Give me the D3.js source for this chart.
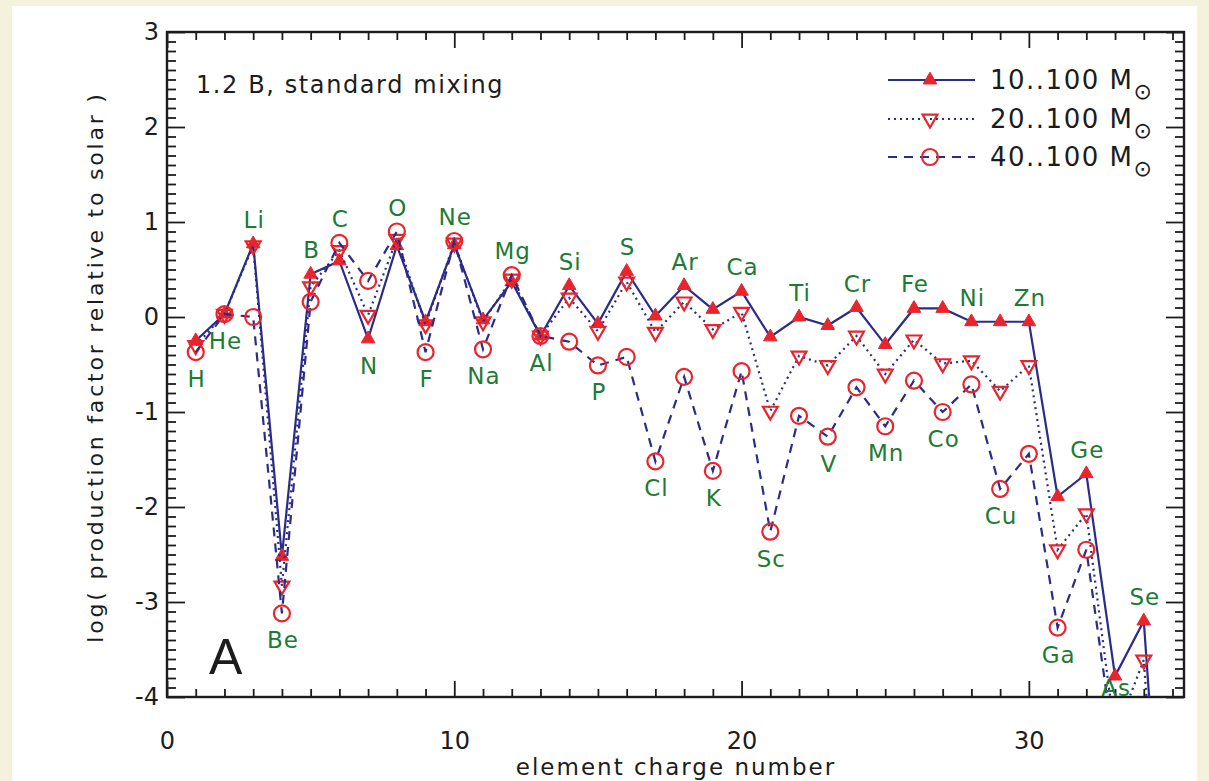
<!DOCTYPE html>
<html>
<head>
<meta charset="utf-8">
<script src="https://cdn.jsdelivr.net/npm/d3@7"></script>
<style>
  html, body { margin: 0; padding: 0; background: #f4f1dc; }
  svg { display: block; }
</style>
</head>
<body>
<div id="chart"></div>
<script>
// Production factors (log, relative to solar)
const chargeNumbers = [1, 2, 3, 4, 5, 6, 7, 8, 9, 10, 11, 12, 13, 14, 15, 16, 17, 18,
  19, 20, 21, 22, 23, 24, 25, 26, 27, 28, 29, 30, 31, 32, 33, 34, 35];
const elements = ['H', 'He', 'Li', 'Be', 'B', 'C', 'N', 'O', 'F', 'Ne', 'Na', 'Mg', 'Al',
  'Si', 'P', 'S', 'Cl', 'Ar', 'K', 'Ca', 'Sc', 'Ti', 'V', 'Cr', 'Mn', 'Fe', 'Co', 'Ni',
  'Cu', 'Zn', 'Ga', 'Ge', 'As', 'Se', 'Br'];
// a = label above the point, b = label below
const labelSide = ['b', 'b', 'a', 'b', 'a', 'a', 'b', 'a', 'b', 'a', 'b', 'a', 'b', 'a',
  'b', 'a', 'b', 'a', 'b', 'a', 'b', 'a', 'b', 'a', 'b', 'a', 'b', 'a', 'b', 'a', 'b',
  'a', 'b', 'a', ''];

const pf10to100 = [-0.25, 0.03, 0.77, -2.52, 0.45, 0.59, -0.23, 0.75, -0.05, 0.76, -0.03,
  0.37, -0.2, 0.33, -0.07, 0.48, 0.01, 0.33, 0.08, 0.27, -0.21, 0.0, -0.09, 0.1, -0.29,
  0.09, 0.09, -0.05, -0.05, -0.05, -1.89, -1.65, -3.78, -3.2, -7.5];
const pf20to100 = [-0.3, 0.03, 0.75, -2.83, 0.32, 0.7, 0.02, 0.82, -0.08, 0.78, -0.05,
  0.4, -0.2, 0.2, -0.15, 0.37, -0.16, 0.16, -0.13, 0.05, -0.99, -0.41, -0.51, -0.2, -0.6,
  -0.24, -0.49, -0.46, -0.78, -0.51, -2.45, -2.07, -4.4, -3.61, -7.8];
const pf40to100 = [-0.37, 0.03, 0.0, -3.12, 0.16, 0.78, 0.38, 0.9, -0.37, 0.8, -0.34,
  0.44, -0.2, -0.26, -0.51, -0.42, -1.52, -0.63, -1.62, -0.57, -2.26, -1.04, -1.26, -0.74,
  -1.15, -0.67, -1.0, -0.71, -1.81, -1.44, -3.27, -2.45, -4.6, -4.3, -8.0];

const seriesNames = ['10..100', '20..100', '40..100'];
const xTicks = [0, 10, 20, 30];
const yTicks = [-4, -3, -2, -1, 0, 1, 2, 3];

const width = 1209;
const height = 781;
const plot = { left: 167, right: 1184, top: 32, bottom: 697 };

const navy = '#2b2b88';
const red = '#e8252d';
const green = '#1e7b34';
const ink = '#1c1c1c';
const font = 'DejaVu Sans, sans-serif';

const svg = d3.select('#chart')
  .append('svg')
  .attr('width', width)
  .attr('height', height);

// page background + white panel
svg.append('rect')
  .attr('width', width)
  .attr('height', height)
  .attr('fill', '#f4f1dc');
svg.append('rect')
  .attr('x', 12)
  .attr('y', 6)
  .attr('width', 1185)
  .attr('height', height - 6)
  .attr('fill', '#ffffff');

const x = d3.scaleLinear().domain([0, 35.4]).range([plot.left, plot.right]);
const y = d3.scaleLinear().domain([-4, 3]).range([plot.bottom, plot.top]);

svg.append('defs')
  .append('clipPath')
  .attr('id', 'plot-clip')
  .append('rect')
  .attr('x', plot.left)
  .attr('y', plot.top)
  .attr('width', plot.right - plot.left)
  .attr('height', plot.bottom - plot.top);

// Axes: major + minor ticks on all four sides, pointing inward
const minorX = d3.range(0, 36).filter(v => v % 10 !== 0);
const minorY = d3.range(-40, 31).map(v => v / 10).filter(v => Math.abs(v % 1) > 1e-9);

function addAxis(axis, transform) {
  const g = svg.append('g')
    .attr('transform', transform)
    .call(axis);
  g.select('.domain').remove();
  g.selectAll('line').attr('stroke', ink).attr('stroke-width', 1.8);
  return g;
}

const bottomAxis = addAxis(
  d3.axisBottom(x).tickValues(xTicks).tickSizeInner(-16).tickSizeOuter(0).tickPadding(35),
  `translate(0, ${plot.bottom})`);
bottomAxis.selectAll('text')
  .attr('font-family', font)
  .attr('font-size', '24px')
  .attr('fill', ink);
addAxis(d3.axisBottom(x).tickValues(minorX).tickSize(-8).tickFormat(''),
  `translate(0, ${plot.bottom})`);
addAxis(d3.axisTop(x).tickValues(xTicks).tickSize(-16).tickFormat(''),
  `translate(0, ${plot.top})`);
addAxis(d3.axisTop(x).tickValues(minorX).tickSize(-8).tickFormat(''),
  `translate(0, ${plot.top})`);

const leftAxis = addAxis(
  d3.axisLeft(y).tickValues(yTicks).tickSizeInner(-18).tickSizeOuter(0).tickPadding(8),
  `translate(${plot.left}, 0)`);
leftAxis.selectAll('text')
  .attr('font-family', font)
  .attr('font-size', '24px')
  .attr('fill', ink)
  .text(d => d < 0 ? '-' + Math.abs(d) : d);
addAxis(d3.axisLeft(y).tickValues(minorY).tickSize(-9).tickFormat(''),
  `translate(${plot.left}, 0)`);
addAxis(d3.axisRight(y).tickValues(yTicks).tickSize(-18).tickFormat(''),
  `translate(${plot.right}, 0)`);
addAxis(d3.axisRight(y).tickValues(minorY).tickSize(-9).tickFormat(''),
  `translate(${plot.right}, 0)`);

svg.append('rect')
  .attr('x', plot.left)
  .attr('y', plot.top)
  .attr('width', plot.right - plot.left)
  .attr('height', plot.bottom - plot.top)
  .attr('fill', 'none')
  .attr('stroke', ink)
  .attr('stroke-width', 2.4);

// Axis titles
svg.append('text')
  .attr('x', 676)
  .attr('y', 767)
  .attr('text-anchor', 'middle')
  .attr('dominant-baseline', 'central')
  .attr('font-family', font)
  .attr('font-size', '23px')
  .attr('letter-spacing', '2px')
  .attr('fill', ink)
  .text('element charge number');

svg.append('text')
  .attr('transform', `translate(95, 367) rotate(-90)`)
  .attr('text-anchor', 'middle')
  .attr('dominant-baseline', 'central')
  .attr('font-family', font)
  .attr('font-size', '22px')
  .attr('letter-spacing', '2.8px')
  .attr('fill', ink)
  .text('log( production factor relative to solar )');

// Series
const seriesValues = [pf10to100, pf20to100, pf40to100];
const series = seriesValues.map((vals, i) => ({
  name: seriesNames[i],
  points: vals.map((v, j) => ({ z: chargeNumbers[j], v }))
}));
const dashes = [null, '2,4', '9,7'];

const line = d3.line()
  .x(d => x(d.z))
  .y(d => y(d.v));

const plotArea = svg.append('g').attr('clip-path', 'url(#plot-clip)');

function drawMarker(sel, kind) {
  if (kind === 0) {
    sel.append('path')
      .attr('d', d3.symbol(d3.symbolTriangle, 80)())
      .attr('fill', red)
      .attr('stroke', red)
      .attr('stroke-width', 1);
  } else if (kind === 1) {
    sel.append('path')
      .attr('d', d3.symbol(d3.symbolTriangle, 95)())
      .attr('transform', 'rotate(180)')
      .attr('fill', 'none')
      .attr('stroke', red)
      .attr('stroke-width', 2.2);
  } else {
    sel.append('circle')
      .attr('r', 8)
      .attr('fill', 'none')
      .attr('stroke', red)
      .attr('stroke-width', 2.2);
  }
}

series.forEach((s, i) => {
  plotArea.append('path')
    .datum(s.points)
    .attr('d', line)
    .attr('fill', 'none')
    .attr('stroke', navy)
    .attr('stroke-width', 2.2)
    .attr('stroke-dasharray', dashes[i]);

  plotArea.selectAll(`.marker-${i}`)
    .data(s.points.filter(d => d.v >= y.domain()[0]))
    .join('g')
    .attr('class', `marker-${i}`)
    .attr('transform', d => `translate(${x(d.z)}, ${y(d.v)})`)
    .each(function() { drawMarker(d3.select(this), i); });
});

// Element labels
elements.forEach((el, j) => {
  const side = labelSide[j];
  if (!side) return;
  const vals = seriesValues.map(s => s[j]);
  let ly;
  if (side === 'a') {
    ly = y(d3.max(vals)) - 24;
  } else {
    ly = Math.min(y(d3.min(vals)) + 27, plot.bottom - 9);
  }
  svg.append('text')
    .attr('x', x(chargeNumbers[j]) + 1)
    .attr('y', ly)
    .attr('text-anchor', 'middle')
    .attr('dominant-baseline', 'central')
    .attr('font-family', font)
    .attr('font-size', '23px')
    .attr('letter-spacing', '1px')
    .attr('fill', green)
    .text(el);
});

// Run label and panel letter
svg.append('text')
  .attr('x', 196)
  .attr('y', 85)
  .attr('dominant-baseline', 'central')
  .attr('font-family', font)
  .attr('font-size', '24px')
  .attr('letter-spacing', '1.6px')
  .attr('fill', ink)
  .text('1.2 B, standard mixing');

svg.append('text')
  .attr('x', 209)
  .attr('y', 657)
  .attr('dominant-baseline', 'central')
  .attr('font-family', 'Liberation Sans, sans-serif')
  .attr('font-size', '50px')
  .attr('font-weight', 300)
  .attr('fill', ink)
  .text('A');

// Legend
const legend = svg.append('g').attr('class', 'legend');
const legendRows = [80, 119, 157];
series.forEach((s, i) => {
  const row = legend.append('g')
    .attr('transform', `translate(0, ${legendRows[i]})`);
  row.append('line')
    .attr('x1', 888)
    .attr('x2', 975)
    .attr('stroke', navy)
    .attr('stroke-width', 2.2)
    .attr('stroke-dasharray', dashes[i]);
  const m = row.append('g').attr('transform', 'translate(930, 0)');
  drawMarker(m, i);
  const t = row.append('text')
    .attr('x', 990)
    .attr('y', 0)
    .attr('dominant-baseline', 'central')
    .attr('font-family', font)
    .attr('font-size', '26px')
    .attr('letter-spacing', '1.5px')
    .attr('fill', ink);
  t.append('tspan').text(s.name + ' M');
  t.append('tspan')
    .attr('dy', 11)
    .attr('font-size', '22px')
    .text('\u2299');
});
</script>
</body>
</html>
